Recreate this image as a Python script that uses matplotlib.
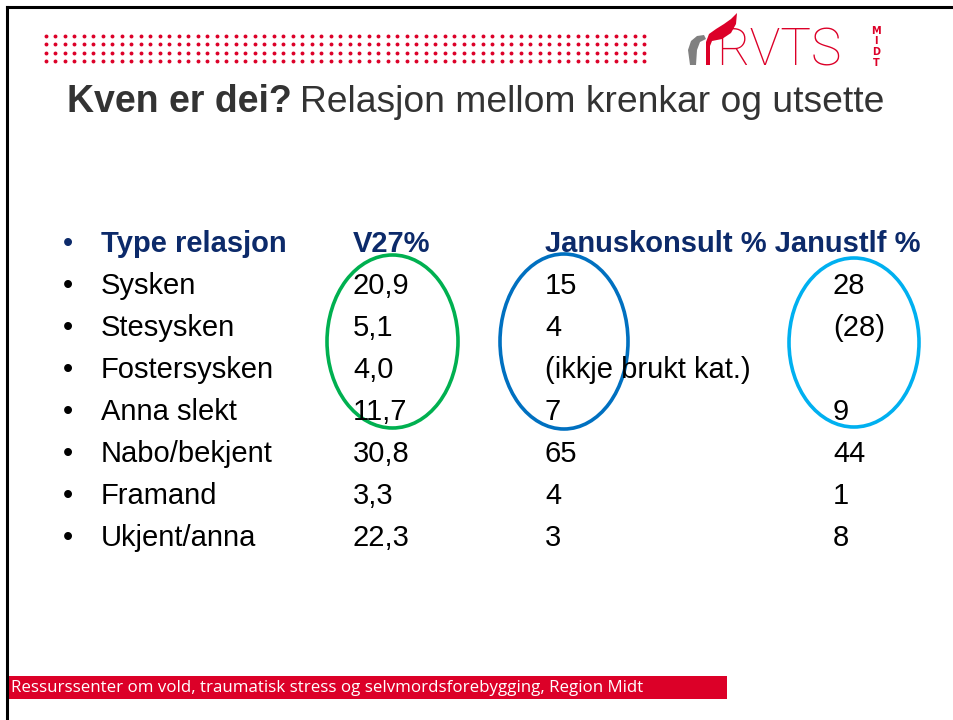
import matplotlib.pyplot as plt
from matplotlib.patches import Ellipse, Rectangle, Polygon

# Data for the slide table
header = ["Type relasjon", "V27%", "Januskonsult % Janustlf %"]
relations = ["Sysken", "Stesysken", "Fostersysken", "Anna slekt",
             "Nabo/bekjent", "Framand", "Ukjent/anna"]
v27 = ["20,9", "5,1", "4,0", "11,7", "30,8", "3,3", "22,3"]
januskonsult = ["15", "4", "(ikkje brukt kat.)", "7", "65", "4", "3"]
janustlf = ["28", "(28)", "", "9", "44", "1", "8"]

navy = "#0c2a6a"
red = "#dc0028"

fig = plt.figure(figsize=(9.54, 7.2), dpi=100)
ax = fig.add_axes([0, 0, 1, 1])
ax.set_xlim(0, 954)
ax.set_ylim(720, 0)
ax.axis("off")

# slide border (top and left)
ax.plot([7, 954], [7, 7], color="black", lw=2.2)
ax.plot([7, 7], [7, 720], color="black", lw=2.2)

# dotted header band
for r in range(4):
    for c in range(64):
        ax.plot(46 + c * 9.5, 36 + r * 8.4, "o", color=red, ms=2.8, mew=0)

# logo
ax.add_patch(Polygon([[690, 65], [688, 50], [691, 41], [697, 36], [704, 35],
                      [706, 39], [700, 42], [697, 50], [696, 65]], closed=True,
                     color="#808080", lw=0))
ax.add_patch(Polygon([[706, 65], [706, 42], [709, 34], [716, 29], [724, 24],
                      [731, 19], [737, 13], [736, 24], [731, 33], [722, 39],
                      [712, 41], [710, 46], [710, 65]], closed=True,
                     color=red, lw=0))
ax.text(716, 65, "RVTS", color=red, fontsize=37, family="Roboto",
        fontweight="light", va="baseline", ha="left")
for i, ch in enumerate("MIDT"):
    ax.text(876, 31 + i * 10.5, ch, color=red, fontsize=7, family="DejaVu Sans",
            fontweight="bold", ha="center", va="center")

# title
ax.text(67, 112, "Kven er dei?", fontsize=27, fontweight="bold",
        color="#333333", family="Liberation Sans", va="baseline")
ax.text(300, 112, "Relasjon mellom krenkar og utsette", fontsize=26.8,
        color="#333333", family="Liberation Sans", va="baseline")

# table rows
fs = 21
row0 = 251.5
dy = 42
col_x = [101, 353, 545, 833]

ax.text(63, row0, "\u2022", fontsize=fs, color=navy, va="baseline",
        family="Liberation Sans")
for x, h in zip(col_x[:3], header):
    ax.text(x, row0, h, fontsize=fs, color=navy, fontweight="bold",
            va="baseline", family="Liberation Sans")

for i, rel in enumerate(relations):
    y = row0 + (i + 1) * dy
    ax.text(63, y, "\u2022", fontsize=fs, color="black", va="baseline",
            family="Liberation Sans")
    for x, val in zip(col_x, [rel, v27[i], januskonsult[i], janustlf[i]]):
        ax.text(x, y, val, fontsize=fs, color="black", va="baseline",
                family="Liberation Sans")

# highlight ellipses
ax.add_patch(Ellipse((392.5, 341.5), 131, 173, fill=False,
                     edgecolor="#00b050", lw=2.6))
ax.add_patch(Ellipse((564, 341.5), 128, 175, fill=False,
                     edgecolor="#0070c0", lw=2.6))
ax.add_patch(Ellipse((854, 342.5), 130, 169, fill=False,
                     edgecolor="#00b0f0", lw=2.6))

# footer band
ax.add_patch(Rectangle((8, 676), 719, 23, color=red, lw=0))
ax.text(11, 688, "Ressurssenter om vold, traumatisk stress og selvmordsforebygging, Region Midt",
        color="white", fontsize=12.2, family="Open Sans", va="center", ha="left")

fig.savefig("out.png", dpi=100)
